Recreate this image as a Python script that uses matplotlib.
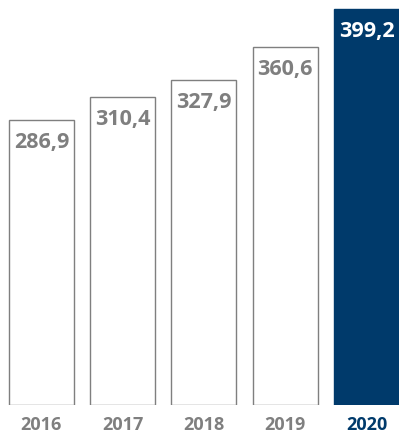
import matplotlib.pyplot as plt

years = ['2016', '2017', '2018', '2019', '2020']
values = [286.9, 310.4, 327.9, 360.6, 399.2]
labels = ['286,9', '310,4', '327,9', '360,6', '399,2']

navy = '#003a6b'
gray = '#7f7f7f'

plt.rcParams['font.family'] = ['Open Sans', 'DejaVu Sans']

fig = plt.figure(figsize=(3.99, 4.35), dpi=100)
ax = fig.add_axes([0, 29 / 435, 1, 406 / 435])

x = range(len(years))
faces = ['white'] * 4 + [navy]
edges = [gray] * 4 + [navy]
ax.bar(x, values, width=0.8, color=faces, edgecolor=edges, linewidth=1.0)

for i, (v, lab) in enumerate(zip(values, labels)):
    c = 'white' if i == len(values) - 1 else gray
    ax.annotate(lab, (i, v), xytext=(0, -8), textcoords='offset points',
                ha='center', va='top', fontsize=15.5, fontweight='bold', color=c)
    yc = navy if i == len(values) - 1 else gray
    ax.annotate(years[i], (i, 0), xytext=(0, -7), textcoords='offset points',
                ha='center', va='top', fontsize=13, fontweight='bold', color=yc)

ax.set_xlim(-0.51, 4.4)
ax.set_ylim(0, 409)
ax.axis('off')

fig.savefig('out.png', dpi=100)
